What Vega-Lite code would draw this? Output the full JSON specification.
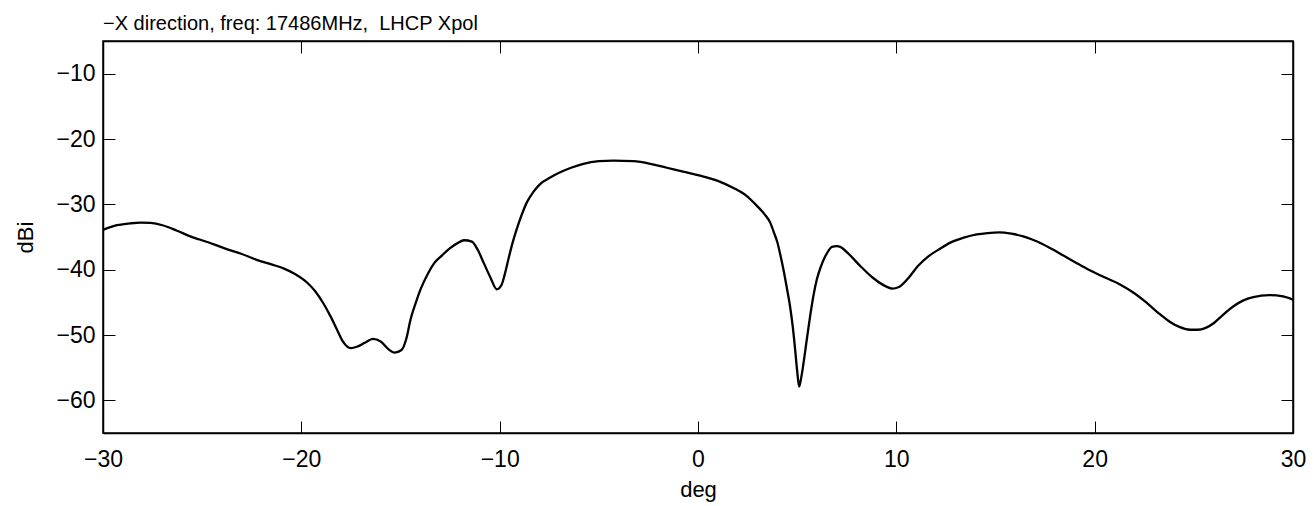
{
  "$schema": "https://vega.github.io/schema/vega-lite/v6.json",
  "width": 1190,
  "height": 392,
  "autosize": {"type": "none"},
  "padding": {"left": 103, "top": 41, "right": 21, "bottom": 73},
  "background": "white",
  "title": {
    "text": "−X direction, freq: 17486MHz, \u00a0LHCP Xpol",
    "anchor": "start",
    "frame": "group",
    "font": "Liberation Sans",
    "fontSize": 20,
    "fontWeight": "normal",
    "color": "#000",
    "baseline": "bottom",
    "offset": -13
  },
  "config": {
    "view": {"stroke": "#000", "strokeWidth": 1.5},
    "axis": {
      "grid": false,
      "domainColor": "#000",
      "domainWidth": 1.5,
      "tickColor": "#000",
      "tickWidth": 1,
      "tickSize": -12,
      "labelFont": "Liberation Sans",
      "labelFontSize": 23,
      "labelColor": "#000",
      "titleFont": "Liberation Sans",
      "titleFontSize": 22,
      "titleFontWeight": "normal",
      "titleColor": "#000"
    }
  },
  "data": {
    "values": [
      {"deg": -30, "dBi": -33.9},
      {"deg": -29.3, "dBi": -33.2},
      {"deg": -28.6, "dBi": -32.9},
      {"deg": -28.1, "dBi": -32.8},
      {"deg": -27.6, "dBi": -32.85},
      {"deg": -27.0, "dBi": -33.2},
      {"deg": -26.3, "dBi": -34.0},
      {"deg": -25.6, "dBi": -34.9},
      {"deg": -24.7, "dBi": -35.8},
      {"deg": -23.9, "dBi": -36.7},
      {"deg": -23.0, "dBi": -37.6},
      {"deg": -22.25, "dBi": -38.5},
      {"deg": -21.5, "dBi": -39.2},
      {"deg": -20.9, "dBi": -39.8},
      {"deg": -20.3, "dBi": -40.7},
      {"deg": -19.7, "dBi": -42.0},
      {"deg": -19.3, "dBi": -43.3},
      {"deg": -18.9, "dBi": -45.1},
      {"deg": -18.5, "dBi": -47.3},
      {"deg": -18.2, "dBi": -49.2},
      {"deg": -17.9, "dBi": -51.0},
      {"deg": -17.5, "dBi": -52.0},
      {"deg": -17.2, "dBi": -51.8},
      {"deg": -16.8, "dBi": -51.2},
      {"deg": -16.4, "dBi": -50.6},
      {"deg": -16.0, "dBi": -51.0},
      {"deg": -15.6, "dBi": -52.2},
      {"deg": -15.3, "dBi": -52.7},
      {"deg": -14.95, "dBi": -52.3},
      {"deg": -14.7, "dBi": -50.5},
      {"deg": -14.5, "dBi": -47.7},
      {"deg": -14.2, "dBi": -44.8},
      {"deg": -14.0, "dBi": -43.1},
      {"deg": -13.6, "dBi": -40.5},
      {"deg": -13.3, "dBi": -39.0},
      {"deg": -12.9, "dBi": -37.8},
      {"deg": -12.5, "dBi": -36.7},
      {"deg": -12.1, "dBi": -35.9},
      {"deg": -11.8, "dBi": -35.5},
      {"deg": -11.4, "dBi": -35.7},
      {"deg": -11.1, "dBi": -37.0},
      {"deg": -10.8, "dBi": -39.0},
      {"deg": -10.45, "dBi": -41.3},
      {"deg": -10.15, "dBi": -43.0},
      {"deg": -9.9, "dBi": -42.3},
      {"deg": -9.75, "dBi": -40.8},
      {"deg": -9.56, "dBi": -38.4},
      {"deg": -9.35, "dBi": -35.9},
      {"deg": -9.14, "dBi": -33.8},
      {"deg": -8.9, "dBi": -31.7},
      {"deg": -8.63, "dBi": -29.7},
      {"deg": -8.3, "dBi": -28.1},
      {"deg": -7.96, "dBi": -26.9},
      {"deg": -7.45, "dBi": -25.9},
      {"deg": -6.95, "dBi": -25.1},
      {"deg": -6.4, "dBi": -24.4},
      {"deg": -5.78, "dBi": -23.8},
      {"deg": -5.0, "dBi": -23.4},
      {"deg": -4.27, "dBi": -23.3},
      {"deg": -3.26, "dBi": -23.4},
      {"deg": -2.4, "dBi": -23.8},
      {"deg": -1.57, "dBi": -24.4},
      {"deg": -0.75, "dBi": -25.0},
      {"deg": 0.1, "dBi": -25.6},
      {"deg": 1.0, "dBi": -26.4},
      {"deg": 1.79, "dBi": -27.5},
      {"deg": 2.4, "dBi": -28.6},
      {"deg": 2.96, "dBi": -30.2},
      {"deg": 3.35, "dBi": -31.5},
      {"deg": 3.64, "dBi": -32.8},
      {"deg": 3.85, "dBi": -34.5},
      {"deg": 4.0, "dBi": -35.8},
      {"deg": 4.15, "dBi": -37.7},
      {"deg": 4.31, "dBi": -40.0},
      {"deg": 4.48, "dBi": -42.8},
      {"deg": 4.64, "dBi": -45.6},
      {"deg": 4.78, "dBi": -48.8},
      {"deg": 4.9, "dBi": -52.3},
      {"deg": 5.0, "dBi": -55.5},
      {"deg": 5.1, "dBi": -57.9},
      {"deg": 5.2, "dBi": -56.6},
      {"deg": 5.32, "dBi": -54.3},
      {"deg": 5.48, "dBi": -50.8},
      {"deg": 5.65, "dBi": -47.2},
      {"deg": 5.82, "dBi": -44.0},
      {"deg": 5.99, "dBi": -41.5},
      {"deg": 6.2, "dBi": -39.5},
      {"deg": 6.41, "dBi": -38.0},
      {"deg": 6.6, "dBi": -37.0},
      {"deg": 6.75, "dBi": -36.5},
      {"deg": 7.0, "dBi": -36.4},
      {"deg": 7.17, "dBi": -36.5},
      {"deg": 7.6, "dBi": -37.6},
      {"deg": 8.17, "dBi": -39.4},
      {"deg": 8.8, "dBi": -41.2},
      {"deg": 9.5, "dBi": -42.6},
      {"deg": 9.8, "dBi": -42.9},
      {"deg": 10.1, "dBi": -42.7},
      {"deg": 10.6, "dBi": -41.3},
      {"deg": 11.1, "dBi": -39.4},
      {"deg": 11.6, "dBi": -38.0},
      {"deg": 12.2, "dBi": -36.8},
      {"deg": 12.7, "dBi": -35.9},
      {"deg": 13.4, "dBi": -35.1},
      {"deg": 14.06, "dBi": -34.6},
      {"deg": 14.6, "dBi": -34.4},
      {"deg": 15.2, "dBi": -34.3},
      {"deg": 15.8, "dBi": -34.5},
      {"deg": 16.4, "dBi": -34.9},
      {"deg": 17.1, "dBi": -35.7},
      {"deg": 17.75, "dBi": -36.7},
      {"deg": 18.4, "dBi": -37.8},
      {"deg": 19.1, "dBi": -39.0},
      {"deg": 19.7, "dBi": -40.0},
      {"deg": 20.3, "dBi": -40.9},
      {"deg": 21.3, "dBi": -42.3},
      {"deg": 22.0, "dBi": -43.6},
      {"deg": 22.6, "dBi": -45.0},
      {"deg": 23.2, "dBi": -46.6},
      {"deg": 23.8, "dBi": -48.0},
      {"deg": 24.3, "dBi": -48.8},
      {"deg": 24.8, "dBi": -49.2},
      {"deg": 25.2, "dBi": -49.2},
      {"deg": 25.6, "dBi": -48.9},
      {"deg": 26.0, "dBi": -48.2},
      {"deg": 26.4, "dBi": -47.1},
      {"deg": 27.0, "dBi": -45.6},
      {"deg": 27.5, "dBi": -44.7},
      {"deg": 28.0, "dBi": -44.2},
      {"deg": 28.8, "dBi": -43.9},
      {"deg": 29.5, "dBi": -44.1},
      {"deg": 30, "dBi": -44.6}
    ]
  },
  "layer": [
    {
      "mark": {"type": "line", "color": "#000", "strokeWidth": 2.3, "interpolate": "monotone"},
      "encoding": {
        "x": {
          "field": "deg", "type": "quantitative",
          "scale": {"domain": [-30, 30], "nice": false, "zero": false},
          "axis": {"orient": "bottom", "values": [-30, -20, -10, 0, 10, 20, 30], "title": "deg", "labelPadding": 27, "titlePadding": 8, "labelFlush": false}
        },
        "y": {
          "field": "dBi", "type": "quantitative",
          "scale": {"domain": [-65, -5], "nice": false, "zero": false},
          "axis": {"orient": "left", "values": [-60, -50, -40, -30, -20, -10], "title": "dBi", "labelPadding": 20, "titlePadding": 18, "labelFlush": false}
        }
      }
    },
    {
      "mark": {"type": "line", "color": "#000", "strokeWidth": 0, "opacity": 0},
      "encoding": {
        "x": {
          "field": "deg", "type": "quantitative",
          "scale": {"domain": [-30, 30], "nice": false, "zero": false},
          "axis": {"orient": "top", "values": [-30, -20, -10, 0, 10, 20, 30], "title": null, "labels": false}
        },
        "y": {
          "field": "dBi", "type": "quantitative",
          "scale": {"domain": [-65, -5], "nice": false, "zero": false},
          "axis": {"orient": "right", "values": [-60, -50, -40, -30, -20, -10], "title": null, "labels": false}
        }
      }
    }
  ],
  "resolve": {"axis": {"x": "independent", "y": "independent"}}
}
